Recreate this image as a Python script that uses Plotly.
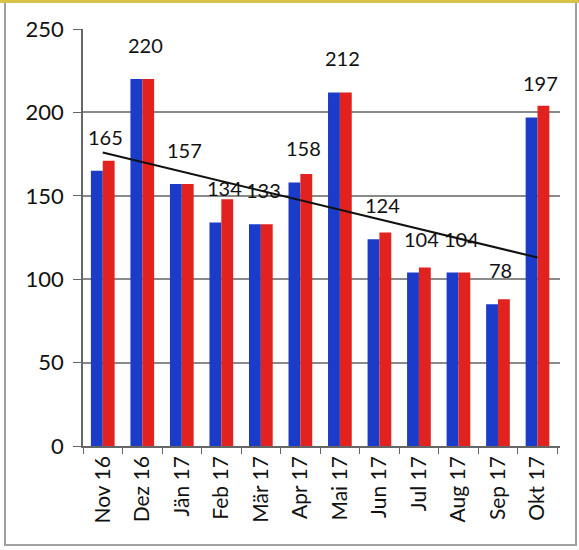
import plotly.graph_objects as go

months = ["Nov 16", "Dez 16", "Jän 17", "Feb 17", "Mär 17", "Apr 17",
          "Mai 17", "Jun 17", "Jul 17", "Aug 17", "Sep 17", "Okt 17"]
blue_vals = [165, 220, 157, 134, 133, 158, 212, 124, 104, 104, 85, 197]
red_vals = [171, 220, 157, 148, 133, 163, 212, 128, 107, 104, 88, 204]
label_texts = ["165", "220", "157", "134", "133", "158", "212", "124", "104", "104", "78", "197"]
trend_months = ["Nov 16", "Okt 17"]
trend_vals = [176, 113]
y_ticks = [0, 50, 100, 150, 200, 250]

FONT = "Lato"

fig = go.Figure()
fig.add_trace(go.Bar(x=months, y=blue_vals, marker=dict(color="#1a3cc8", line=dict(width=0)),
                     name="A", showlegend=False))
fig.add_trace(go.Bar(x=months, y=red_vals, marker=dict(color="#e2221e", line=dict(width=0)),
                     name="B", showlegend=False))
fig.add_trace(go.Scatter(x=trend_months, y=trend_vals, mode="lines",
                         line=dict(color="#111111", width=2), showlegend=False))

for m, v, t in zip(months, blue_vals, label_texts):
    fig.add_annotation(x=m, y=v, text=t, showarrow=False, yshift=34, xshift=3,
                       yanchor="middle", font=dict(family=FONT, size=20, color="#111111"))

# scanned frame
fig.add_shape(type="rect", xref="paper", yref="paper", x0=-0.1635, x1=1.0335, y0=-0.2374, y1=1.0647,
              line=dict(color="#a0a0a0", width=2), layer="below")
fig.add_shape(type="line", xref="paper", yref="paper", x0=-0.175, x1=1.04, y0=1.066, y1=1.066,
              line=dict(color="#d8c24a", width=3))

fig.update_layout(
    width=579, height=550,
    margin=dict(l=83, r=19, t=29, b=104),
    paper_bgcolor="white", plot_bgcolor="white",
    barmode="group", bargap=0.4, bargroupgap=0,
    font=dict(family=FONT, size=20, color="#111111"),
    xaxis=dict(type="category", tickangle=-90, showgrid=False,
               showline=True, linecolor="#666666", linewidth=1.5,
               ticks="outside", tickson="boundaries", ticklen=6, tickcolor="#666666",
               tickfont=dict(family=FONT, size=21, color="#111111")),
    yaxis=dict(range=[0, 250], tickvals=y_ticks, showgrid=True, gridcolor="#8a8a8a", gridwidth=1.5,
               showline=True, linecolor="#666666", linewidth=1.5, zeroline=False,
               ticks="outside", ticklen=8, tickcolor="#666666", ticklabelstandoff=5,
               tickfont=dict(family=FONT, size=22, color="#111111")),
)

fig.write_html("out.html", config={"displayModeBar": False},
               post_script="document.body.style.margin='0';")
